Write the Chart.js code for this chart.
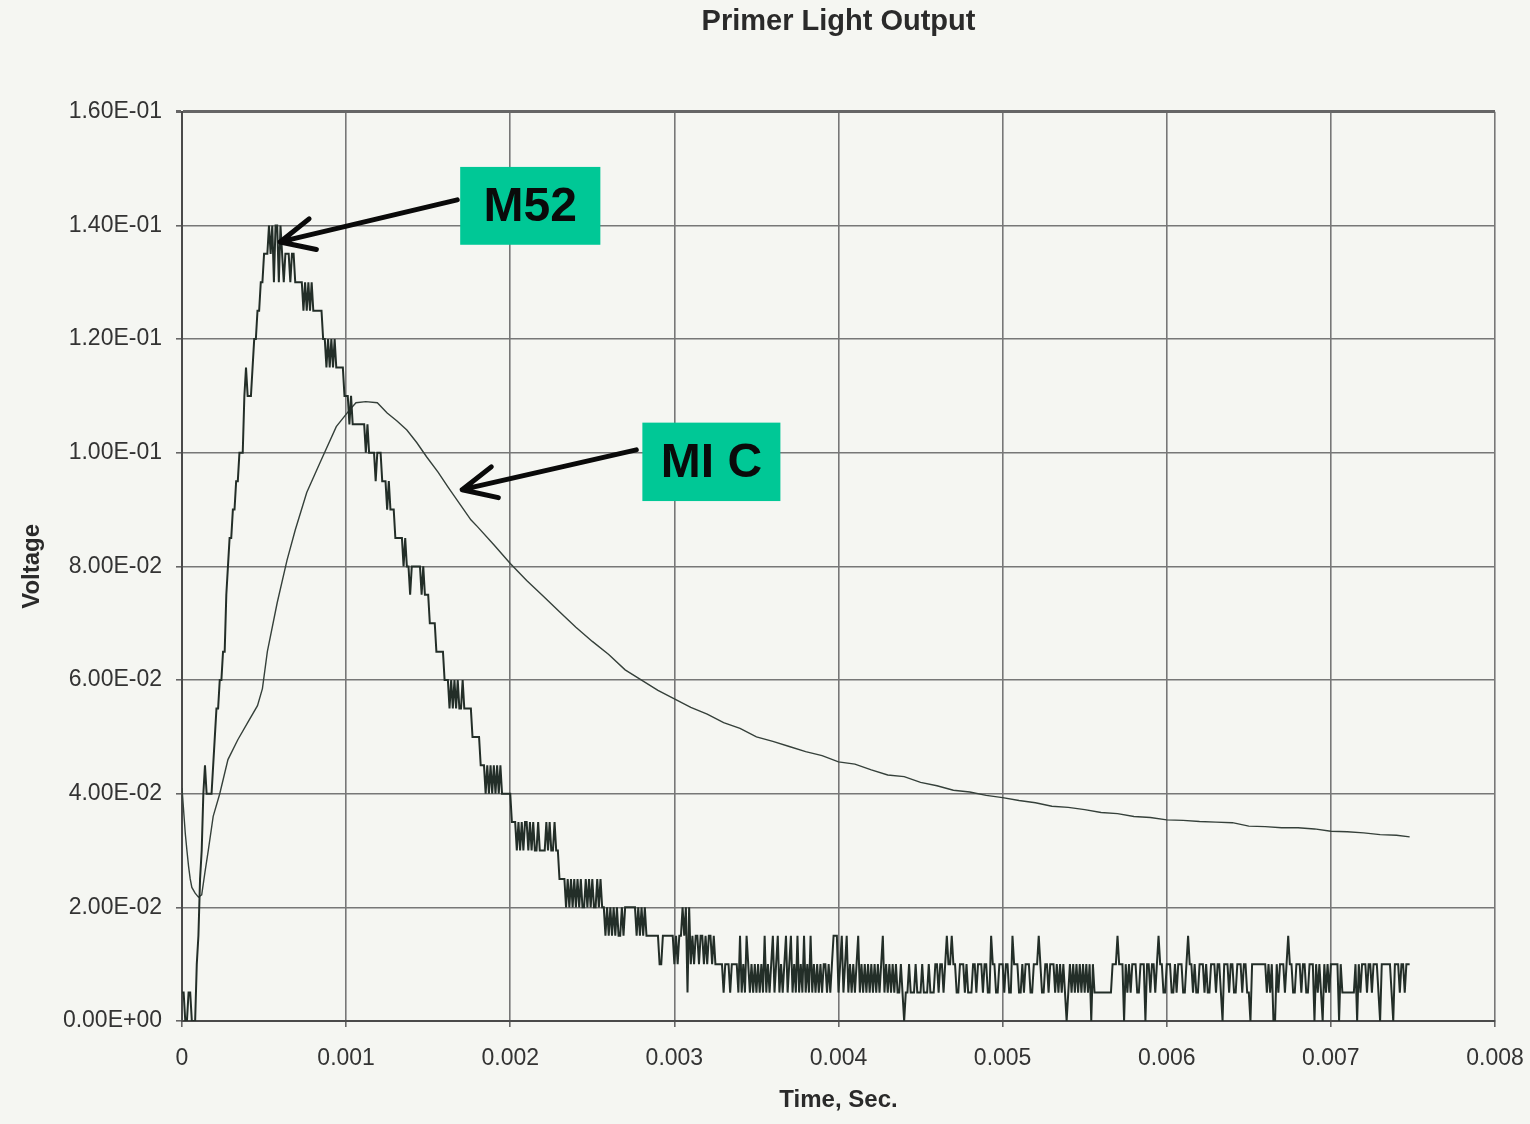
<!DOCTYPE html>
<html><head><meta charset="utf-8">
<script src="https://cdn.jsdelivr.net/npm/chart.js@4.4.1/dist/chart.umd.min.js"></script>
<style>html,body{margin:0;padding:0;background:#f5f6f2;}canvas{display:block;}</style>
</head><body>
<canvas id="c" width="1530" height="1124"></canvas>
<script>
// ---------- text ----------
const chartTitle = 'Primer Light Output';
const xAxisTitle = 'Time, Sec.';
const yAxisTitle = 'Voltage';
const xTickLabels = ['0','0.001','0.002','0.003','0.004','0.005','0.006','0.007','0.008'];
const yTickLabels = ['0.00E+00','2.00E-02','4.00E-02','6.00E-02','8.00E-02','1.00E-01','1.20E-01','1.40E-01','1.60E-01'];

const m52SampleInterval = 0.00001;
const m52mV = [
5,5,0,0,5,5,0,0,0,10,
15,25,30,40,45,40,40,40,40,45,
50,55,55,60,60,65,65,75,80,85,
85,90,90,95,95,100,100,100,110,115,
110,110,110,115,120,120,125,125,130,130,
135,135,135,140,135,140,130,140,140,130,
140,135,130,135,135,135,130,135,135,130,
130,130,130,130,125,130,125,130,125,130,
125,125,125,125,125,125,120,120,115,120,
115,120,115,120,115,115,115,115,115,110,
110,110,105,110,105,105,105,105,105,105,
105,105,100,105,100,100,100,100,95,100,
100,100,95,95,95,90,95,90,90,90,
85,85,85,85,85,80,85,80,80,75,
80,80,80,80,80,80,75,80,75,75,
75,70,70,70,70,65,65,65,65,65,
60,60,60,55,60,55,60,55,60,55,
55,60,55,55,55,55,55,50,50,50,
50,50,45,45,45,40,45,40,45,40,
45,40,45,40,45,40,40,40,40,40,
40,35,35,35,30,35,30,35,30,35,
35,30,35,30,35,30,30,35,30,30,
30,30,35,30,35,30,30,35,30,30,
25,25,25,25,20,25,20,25,20,25,
20,25,20,25,20,20,25,20,25,20,
25,20,20,25,20,25,20,20,15,20,
15,20,15,20,15,20,15,15,20,15,
20,20,20,20,20,20,20,15,20,15,
20,15,20,15,15,15,15,15,15,15,
15,10,10,15,15,15,15,15,15,15,
10,15,10,15,15,20,15,20,5,20,
10,15,10,15,15,10,15,15,10,15,
10,15,15,10,15,10,10,10,10,10,
5,10,10,10,5,10,10,10,10,5,
15,5,10,5,15,10,5,10,5,10,
5,10,5,10,5,15,5,10,5,10,
15,5,10,15,5,10,5,10,15,5,
10,15,5,10,5,15,5,10,5,15,
5,10,5,15,5,10,5,10,5,10,
5,10,10,5,10,5,10,15,15,15,
5,10,15,5,10,15,5,10,5,10,
5,10,15,5,10,5,10,5,10,5,
10,5,10,5,10,5,10,15,5,10,
5,10,5,10,5,10,5,5,10,5,
0,5,5,10,5,5,5,10,5,5,
5,10,5,5,5,10,5,5,5,10,
10,5,10,10,5,10,15,10,10,15,
10,10,5,5,10,10,10,5,10,5,
5,5,10,10,5,10,10,10,5,10,
10,5,5,15,10,10,5,5,10,10,
10,5,10,10,5,5,15,10,10,10,
5,5,10,5,10,10,10,5,5,10,
10,10,15,10,5,5,10,10,5,10,
10,10,5,10,5,10,5,10,5,0,
5,10,5,10,5,10,5,10,5,10,
5,10,5,10,0,10,5,5,5,5,
5,5,5,5,5,5,5,10,10,10,
15,10,10,10,0,10,5,10,5,10,
10,10,5,5,10,10,10,0,10,10,
5,10,10,5,10,15,10,10,5,5,
10,10,10,5,5,10,5,10,10,10,
5,5,10,15,10,10,5,10,5,5,
10,10,10,5,10,5,5,10,10,10,
5,10,10,5,0,10,10,10,5,10,
10,5,5,10,10,10,5,10,10,5,
5,0,10,10,10,10,10,10,10,10,
10,5,10,5,10,0,0,10,5,10,
10,10,5,10,15,10,10,5,5,10,
10,10,5,10,10,5,5,10,10,10,
0,10,5,10,5,0,10,5,10,5,
10,10,10,10,10,0,10,5,5,5,
5,5,5,5,5,10,0,10,5,10,
10,10,5,10,10,5,10,10,10,5,
0,10,10,10,10,10,10,5,0,10,
10,10,5,10,10,5,10,10,10
];

const micTime = [
0,0.00001,0.00002,0.00003,0.00004,0.00005,0.00006,0.00008,0.0001,0.00012,
0.00014,0.00016,0.00019,0.00023,0.00028,0.00034,0.0004,0.00046,0.00049,0.00052,
0.00058,0.00064,0.00069,0.00076,0.00084,0.00094,0.00102,0.00106,0.00112,0.00119,
0.00125,0.00131,0.00137,0.00143,0.00149,0.00156,0.00162,0.00169,0.00176,
0.0018,0.0019,0.002,0.0021,0.0022,0.0023,0.0024,0.0025,0.0026,0.0027,
0.0028,0.0029,0.003,0.0031,0.0032,0.0033,0.0034,0.0035,0.0036,0.0037,
0.0038,0.0039,0.004,0.0041,0.0042,0.0043,0.0044,0.0045,0.0046,0.0047,
0.0048,0.0049,0.005,0.0051,0.0052,0.0053,0.0054,0.0055,0.0056,0.0057,
0.0058,0.0059,0.006,0.0061,0.0062,0.0063,0.0064,0.0065,0.0066,0.0067,
0.0068,0.0069,0.007,0.0071,0.0072,0.0073,0.0074,0.00748
];
const micVolt = [
0.0410,0.0370,0.0330,0.0300,0.0272,0.0250,0.0235,0.0225,0.0218,0.0222,
0.0262,0.0300,0.0360,0.0400,0.0460,0.0495,0.0525,0.0555,0.0585,0.0650,
0.0736,0.0811,0.0864,0.0930,0.0982,0.1046,0.1075,0.1088,0.1090,0.1088,
0.1070,0.1056,0.1040,0.1018,0.0993,0.0966,0.0940,0.0911,0.0882,
0.0870,0.0838,0.0805,0.0775,0.0748,0.0720,0.0693,0.0668,0.0645,0.0618,
0.0600,0.0582,0.0567,0.0552,0.0540,0.0525,0.0515,0.0500,0.0492,0.0483,
0.0474,0.0467,0.0456,0.0452,0.0442,0.0433,0.0430,0.0420,0.0414,0.0406,
0.0403,0.0397,0.0393,0.0388,0.0384,0.0378,0.0376,0.0372,0.0367,0.0365,
0.0360,0.0358,0.0354,0.0353,0.0351,0.0350,0.0349,0.0343,0.0342,0.0340,
0.0340,0.0338,0.0334,0.0333,0.0331,0.0328,0.0327,0.0324
];

// ---------- annotations (data units: time s, voltage V) ----------
const calloutText = ['M52','MI C'];
const calloutBox = [[0.001695,0.002549,0.1503,0.1366],[0.002805,0.003646,0.1053,0.0915]]; // xMin,xMax,yMax,yMin
const arrowTail = [[0.001677,0.1445],[0.002768,0.1005]];
const arrowTip  = [[0.000598,0.1371],[0.001707,0.0935]];

const FONT = "'Liberation Sans', Arial, Helvetica, sans-serif";
const INK = '#232e28';

const m52Data = m52mV.map((mv, i) => ({x: i * m52SampleInterval, y: mv / 1000}));
const micData = micTime.map((t, i) => ({x: t, y: micVolt[i]}));

const calloutPlugin = {
  id: 'callouts',
  afterDraw(chart) {
    const {ctx, scales: {x, y}} = chart;
    ctx.save();
    for (let k = 0; k < calloutText.length; k++) {
      const [x0, x1, y0, y1] = calloutBox[k];
      const L = x.getPixelForValue(x0), R = x.getPixelForValue(x1);
      const T = y.getPixelForValue(y0), B = y.getPixelForValue(y1);
      ctx.fillStyle = '#00c896';
      ctx.fillRect(L, T, R - L, B - T);
      ctx.fillStyle = '#0a0a0a';
      ctx.font = 'bold 48px ' + FONT;
      ctx.textAlign = 'center';
      ctx.textBaseline = 'middle';
      ctx.fillText(calloutText[k], (L + R) / 2, (T + B) / 2 + 2);
      const tx = x.getPixelForValue(arrowTail[k][0]), ty = y.getPixelForValue(arrowTail[k][1]);
      const hx = x.getPixelForValue(arrowTip[k][0]), hy = y.getPixelForValue(arrowTip[k][1]);
      const ang = Math.atan2(ty - hy, tx - hx);
      ctx.strokeStyle = '#0a0a0a';
      ctx.lineWidth = 5;
      ctx.lineCap = 'round';
      ctx.lineJoin = 'round';
      ctx.beginPath();
      ctx.moveTo(tx, ty); ctx.lineTo(hx, hy);
      ctx.moveTo(hx + 37 * Math.cos(ang - 0.44), hy + 37 * Math.sin(ang - 0.44));
      ctx.lineTo(hx, hy);
      ctx.lineTo(hx + 37 * Math.cos(ang + 0.44), hy + 37 * Math.sin(ang + 0.44));
      ctx.stroke();
    }
    ctx.restore();
  }
};

const bgPlugin = {
  id: 'bg',
  beforeDraw(chart) {
    const {ctx} = chart;
    ctx.save();
    ctx.fillStyle = '#f5f6f2';
    ctx.fillRect(0, 0, chart.width, chart.height);
    ctx.restore();
  }
};

new Chart(document.getElementById('c'), {
  type: 'line',
  data: {
    datasets: [
      {label: 'M52', data: m52Data, borderColor: INK, borderWidth: 2, pointRadius: 0, tension: 0, fill: false},
      {label: 'MIC', data: micData, borderColor: '#35403a', borderWidth: 1.4, pointRadius: 0, tension: 0, fill: false}
    ]
  },
  options: {
    responsive: false,
    animation: false,
    devicePixelRatio: 1,
    layout: {padding: {left: 0, right: 35, top: 0, bottom: 0}},
    plugins: {
      legend: {display: false},
      tooltip: {enabled: false},
      title: {
        display: true, text: chartTitle, fullSize: false, color: '#2a2a2a',
        font: {family: FONT, size: 29, weight: 'bold'},
        padding: {top: 5, bottom: 72}
      }
    },
    scales: {
      x: {
        type: 'linear', min: 0, max: 0.008,
        afterFit(s) { s.height = 103; s.paddingLeft = 0; s.paddingRight = 0; },
        ticks: {stepSize: 0.001, color: '#333', padding: 18, maxRotation: 0,
          font: {family: FONT, size: 23},
          callback: v => xTickLabels[Math.round(v / 0.001)]},
        grid: {color: '#777', lineWidth: 1.6, tickLength: 6, tickColor: '#666'},
        border: {color: '#4a4a4a', width: 2},
        title: {display: true, text: xAxisTitle, color: '#2a2a2a',
          font: {family: FONT, size: 24, weight: 'bold'}, padding: {top: 0, bottom: 9}}
      },
      y: {
        type: 'linear', min: 0, max: 0.16,
        afterFit(s) { s.width = 182; },
        ticks: {stepSize: 0.02, color: '#333', padding: 14,
          font: {family: FONT, size: 23},
          callback: v => yTickLabels[Math.round(v / 0.02)]},
        grid: {color: c => (c.tick && Math.abs(c.tick.value - 0.16) < 1e-9) ? '#666' : '#777',
               lineWidth: c => (c.tick && Math.abs(c.tick.value - 0.16) < 1e-9) ? 3 : 1.6,
               tickLength: 6, tickColor: '#666'},
        border: {color: '#4a4a4a', width: 2},
        title: {display: true, text: yAxisTitle, color: '#2a2a2a',
          font: {family: FONT, size: 24, weight: 'bold'}, padding: {top: 18, bottom: 0}}
      }
    }
  },
  plugins: [bgPlugin, calloutPlugin]
});
</script>
</body></html>
